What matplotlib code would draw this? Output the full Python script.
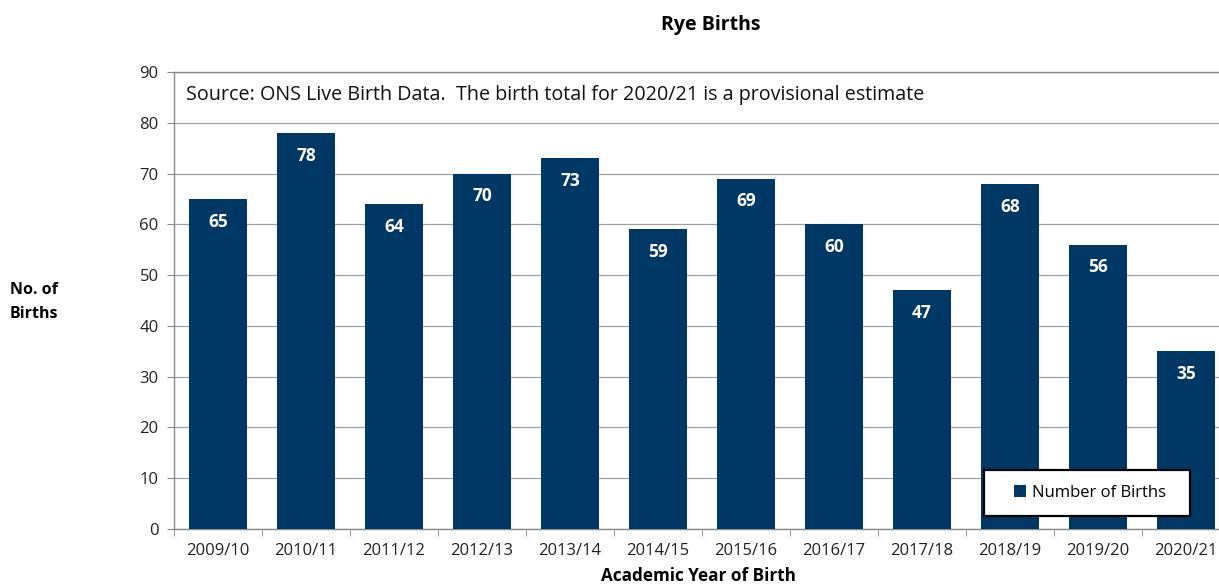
import matplotlib
matplotlib.use("Agg")
import matplotlib.pyplot as plt
from matplotlib.patches import Patch, Rectangle

years = ["2009/10", "2010/11", "2011/12", "2012/13", "2013/14", "2014/15",
         "2015/16", "2016/17", "2017/18", "2018/19", "2019/20", "2020/21"]
births = [65, 78, 64, 70, 73, 59, 69, 60, 47, 68, 56, 35]
yticks = [0, 10, 20, 30, 40, 50, 60, 70, 80, 90]

W, H = 1219, 585
fig = plt.figure(figsize=(W / 100, H / 100), dpi=100)
plt.rcParams['font.family'] = ['Open Sans', 'DejaVu Sans']
left, right, top, bottom = 174, 1230, 72, 529
ax = fig.add_axes([left / W, 1 - bottom / H, (right - left) / W, (bottom - top) / H])

bar_color = "#003865"
x = list(range(len(years)))
bars = ax.bar(x, births, width=0.66, color=bar_color, zorder=3)
for xi, v in zip(x, births):
    ax.text(xi, v - 4.5, str(v), ha="center", va="center", color="white",
            fontsize=12.5, fontweight="bold", zorder=4)

ax.set_xlim(-0.5, len(years) - 0.5)
ax.set_ylim(0, 90)
ax.set_yticks(yticks)
ax.yaxis.grid(True, color="#a0a0a0", linewidth=0.9, zorder=0)
ax.set_xticks(x)
ax.set_xticklabels(years, fontsize=12, color="#222222")
ax.set_xticks([i - 0.5 for i in range(len(years) + 1)], minor=True)
ax.tick_params(axis="x", which="major", length=0, pad=10)
ax.tick_params(axis="x", which="minor", length=5, color="#888888", direction="out")
ax.tick_params(axis="y", length=5, color="#888888", labelsize=12, labelcolor="#222222", pad=6)
for s in ["left", "bottom", "top", "right"]:
    ax.spines[s].set_color("#888888")
    ax.spines[s].set_linewidth(1.0)

ax.text(0.011, 0.972, "Source: ONS Live Birth Data.  The birth total for 2020/21 is a provisional estimate",
        transform=ax.transAxes, ha="left", va="top", fontsize=14.2, color="#111111")

fig.text(711 / W, 1 - 25 / H, "Rye Births", ha="center", va="center",
         fontsize=14, fontweight="bold")
fig.text(10 / W, 1 - 302 / H, "No. of\nBirths", ha="left", va="center",
         fontsize=11.5, fontweight="bold", linespacing=1.6)
fig.text(698 / W, 1 - 576 / H, "Academic Year of Birth", ha="center", va="center",
         fontsize=12.3, fontweight="bold")

# legend box
bx0, bx1, by0, by1 = 984, 1190, 470, 516
fx0 = (bx0 - left) / (right - left)
fw = (bx1 - bx0) / (right - left)
fy0 = (bottom - by1) / (bottom - top)
fh = (by1 - by0) / (bottom - top)
ax.add_patch(Rectangle((fx0, fy0), fw, fh, transform=ax.transAxes, facecolor="white",
                       edgecolor="black", linewidth=1.6, zorder=5))
leg = ax.legend(handles=[Patch(facecolor=bar_color, label="Number of Births")],
                loc="center", bbox_to_anchor=(fx0 + fw / 2 + 0.003, fy0 + fh / 2),
                frameon=False, fontsize=12, handlelength=0.7, handleheight=0.7,
                handletextpad=0.35, borderaxespad=0, borderpad=0)
leg.set_zorder(6)

fig.savefig("out.png", dpi=100)
